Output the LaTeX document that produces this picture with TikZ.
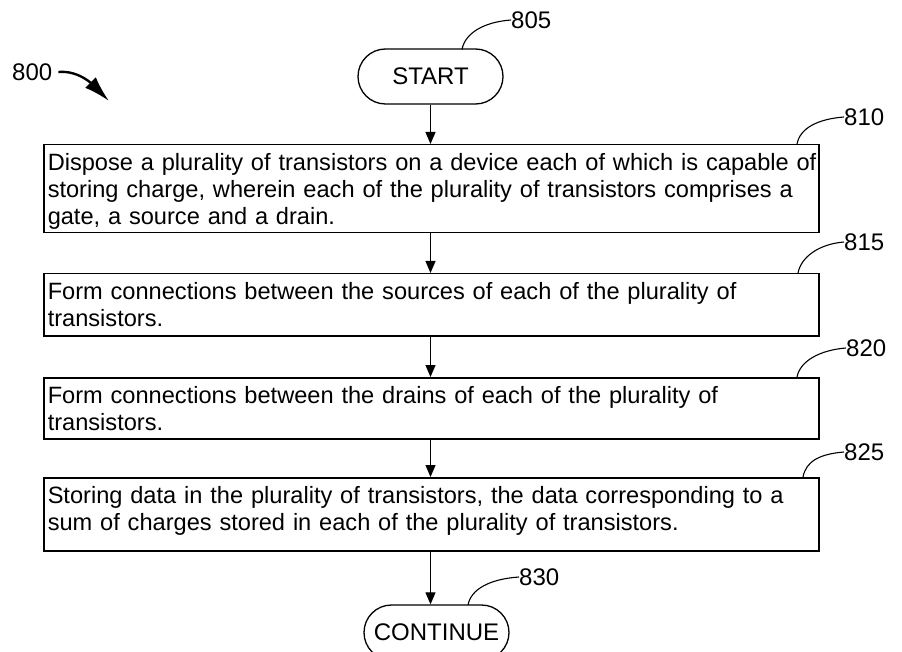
\documentclass[tikz,border=0pt]{standalone}
\usepackage{fontspec}
\setmainfont{Liberation Sans}
\usetikzlibrary{arrows.meta,shapes.misc}
\begin{document}
\begin{tikzpicture}[x=1pt,y=-1pt,
  every node/.style={font=\fontsize{24}{27}\selectfont},
  stepbox/.style={draw, line width=1.5pt, anchor=north west, inner xsep=4pt, inner ysep=0pt, text width=767pt, align=left, text height=26pt, font=\fontsize{23.6}{27}\selectfont},
  term/.style={draw, line width=1.3pt, rounded rectangle, minimum width=145pt, minimum height=55pt, inner sep=0pt},
  flow/.style={line width=1.1pt, -{Triangle[length=12pt,width=10pt]}},
  leader/.style={line width=1.1pt},
  reflabel/.style={inner sep=0pt, anchor=west},
]
\useasboundingbox (0,0) rectangle (902,652);

% terminals and steps
\node[term] (start) at (430.5,76.5) {START};
\node[stepbox, text depth=62pt] (b810) at (43,144) {\mbox{Dispose a plurality of transistors on a device each of which is capable of}\\\mbox{storing charge, wherein each of the plurality of transistors comprises a}\\\mbox{gate, a source and a drain.}};
\node[stepbox, text depth=36pt] (b815) at (43,273) {\mbox{Form connections between the sources of each of the plurality of}\\\mbox{transistors.}};
\node[stepbox, text depth=35pt] (b820) at (43,377) {\mbox{Form connections between the drains of each of the plurality of}\\\mbox{transistors.}};
\node[stepbox, text depth=47pt] (b825) at (43,477) {\mbox{Storing data in the plurality of transistors, the data corresponding to a}\\\mbox{sum of charges stored in each of the plurality of transistors.}};
\node[term] (cont) at (436.5,632.5) {CONTINUE};

% reference labels
\node[reflabel] (l800) at (12,72) {800};
\node[reflabel] (l805) at (511,20) {805};
\node[reflabel] (l810) at (844,117) {810};
\node[reflabel] (l815) at (844,242) {815};
\node[reflabel] (l820) at (846,348) {820};
\node[reflabel] (l825) at (844,452) {825};
\node[reflabel] (l830) at (519,577) {830};

% flow arrows
\draw[flow] (start.south) -- (b810.north -| start.south);
\draw[flow] (b810.south -| start.south) -- (b815.north -| start.south);
\draw[flow] (b815.south -| start.south) -- (b820.north -| start.south);
\draw[flow] (b820.south -| start.south) -- (b825.north -| start.south);
\draw[flow] (b825.south -| start.south) -- (cont.north -| start.south);

% leader lines
\coordinate (a805) at (462,49.5);
\coordinate (a810) at (797,144);
\coordinate (a815) at (798,273);
\coordinate (a820) at (797,377);
\coordinate (a825) at (803,477);
\coordinate (a830) at (468,605);
\draw[leader] (a805) .. controls (465,33) and (484,22) .. (l805.west);
\draw[leader] (a810) .. controls (800,128) and (818,119) .. (l810.west);
\draw[leader] (a815) .. controls (801,257) and (819,244) .. (l815.west);
\draw[leader] (a820) .. controls (800,361) and (820,350) .. (l820.west);
\draw[leader] (a825) .. controls (806,461) and (820,454) .. (l825.west);
\draw[leader] (a830) .. controls (471,589) and (490,579) .. (l830.west);

% figure arrow
\coordinate (t800) at (109,101);
\draw[line width=2.4pt, -{Latex[length=26pt,width=15pt]}] ([xshift=6pt]l800.east) .. controls (80,70) and (95,87) .. (t800);
\end{tikzpicture}
\end{document}
